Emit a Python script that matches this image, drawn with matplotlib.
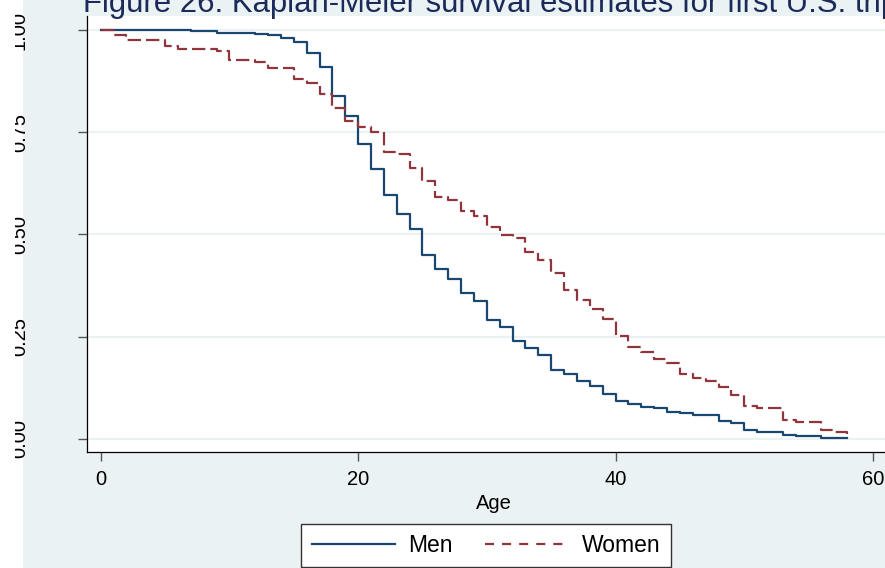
import matplotlib
matplotlib.use('Agg')
import matplotlib.pyplot as plt
from matplotlib.patches import Rectangle
from matplotlib.lines import Line2D

plt.rcParams['font.family'] = ['Liberation Sans', 'DejaVu Sans']
plt.rcParams['lines.scale_dashes'] = False

title = 'Figure 26: Kaplan-Meier survival estimates for first U.S. trip'
series_names = ['Men', 'Women']

# Kaplan-Meier steps (age, survival)
men_age = [0, 7, 9, 10, 12, 13, 14, 15, 16, 17, 18, 19, 20, 21, 22, 23, 24, 25, 26,
           27, 28, 29, 30, 31, 32, 33, 34, 35, 36, 37, 38, 39, 40, 41, 42, 43, 44,
           45, 46, 48, 49, 50, 51, 52, 53, 54, 56, 58]
men_surv = [1.000, 0.997, 0.994, 0.993, 0.990, 0.988, 0.981, 0.970, 0.944, 0.909,
            0.838, 0.790, 0.721, 0.661, 0.597, 0.550, 0.514, 0.450, 0.416, 0.390,
            0.356, 0.336, 0.291, 0.273, 0.238, 0.222, 0.204, 0.169, 0.158, 0.142,
            0.129, 0.110, 0.091, 0.084, 0.077, 0.074, 0.066, 0.062, 0.057, 0.044,
            0.039, 0.021, 0.017, 0.015, 0.010, 0.007, 0.002, 0.002]

women_age = [0, 1, 2, 5, 6, 9, 10, 12, 13, 15, 16, 17, 18, 19, 20, 21, 22, 23, 24,
             25, 26, 27, 28, 29, 30, 31, 32, 33, 34, 35, 36, 37, 38, 39, 40, 41, 42,
             43, 44, 45, 46, 47, 48, 49, 50, 51, 53, 54, 56, 57, 58]
women_surv = [1.000, 0.989, 0.975, 0.962, 0.955, 0.948, 0.928, 0.921, 0.907, 0.881,
              0.871, 0.844, 0.809, 0.777, 0.763, 0.750, 0.703, 0.697, 0.662, 0.630,
              0.591, 0.585, 0.558, 0.544, 0.517, 0.499, 0.491, 0.458, 0.438, 0.405,
              0.364, 0.340, 0.317, 0.292, 0.252, 0.225, 0.213, 0.195, 0.186, 0.159,
              0.148, 0.140, 0.127, 0.107, 0.080, 0.074, 0.046, 0.040, 0.021, 0.016,
              0.012]

xticks = [0, 20, 40, 60]
yticks = [0, 0.25, 0.5, 0.75, 1.0]
ytick_labels = ['0.00', '0.25', '0.50', '0.75', '1.00']

bg = '#eaf2f3'
men_color = '#1a476f'
women_color = '#90353b'
W, H = 885, 568

fig = plt.figure(figsize=(W / 100, H / 100), dpi=100)
fig.patch.set_facecolor('white')
fig.add_artist(Rectangle((23 / W, 0), 1, 1, transform=fig.transFigure,
                         facecolor=bg, edgecolor='none', zorder=-10))

ax = fig.add_axes([87 / W, (H - 452) / H, (900 - 87) / W, (452 - 16) / H])
ax.set_facecolor('white')

ax.step(men_age, men_surv, where='post', color=men_color, lw=1.6, zorder=3)
ax.step(women_age, women_surv, where='post', color=women_color, lw=1.6,
        dashes=(9.6, 3.6), zorder=3)

ax.set_xlim(-1.064, 62.1)
ax.set_ylim(-0.0328, 1.0348)
ax.set_xticks(xticks)
ax.set_yticks(yticks)
ax.set_yticklabels(ytick_labels, rotation=90, va='center')
ax.grid(axis='y', color=bg, lw=1.6, zorder=0)
ax.set_axisbelow(True)

for s in ['top', 'right']:
    ax.spines[s].set_visible(False)
for s in ['left', 'bottom']:
    ax.spines[s].set_color('black')
    ax.spines[s].set_linewidth(0.9)

ax.tick_params(axis='both', length=6.8, width=1.0, color='#555555',
               labelsize=14.5, labelcolor='black')
ax.tick_params(axis='y', pad=35)
ax.tick_params(axis='x', pad=6.5)
ax.set_xlabel('Age', fontsize=14.5, labelpad=3)

fig.text(83 / W, 1 - 12 / H, title, fontsize=22.4, color='#1c2a5a',
         ha='left', va='baseline')

handles = [Line2D([], [], color=men_color, lw=1.6),
           Line2D([], [], color=women_color, lw=1.6, dashes=(6.5, 5.8))]
leg = ax.legend(handles, series_names, loc='center',
                bbox_to_anchor=(486 / W, 1 - 545.5 / H),
                bbox_transform=fig.transFigure, ncol=2, fontsize=16.5,
                frameon=True, fancybox=False, framealpha=1,
                edgecolor='#333333', handlelength=3.65, handletextpad=0.57,
                columnspacing=1.4, borderpad=0.45, borderaxespad=0)
leg.get_frame().set_linewidth(1.0)

# the left edge of the original picture cuts the y labels
fig.add_artist(Rectangle((0, 0), 15 / W, 1, transform=fig.transFigure,
                         facecolor='white', edgecolor='none', zorder=10))

fig.savefig('out.png', dpi=100)
